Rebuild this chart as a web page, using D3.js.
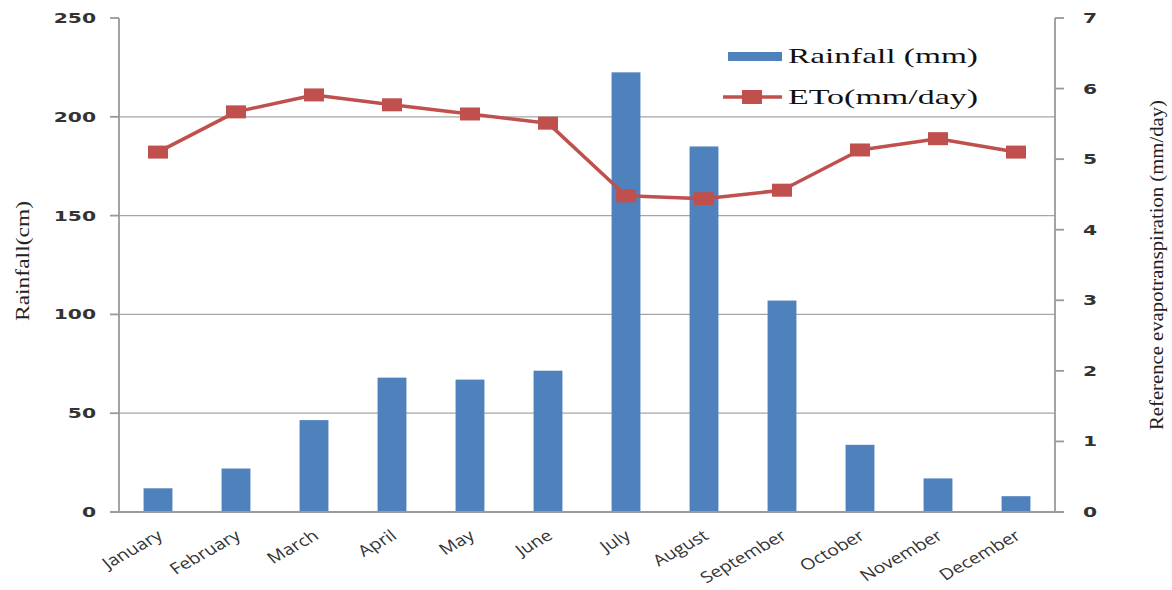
<!DOCTYPE html>
<html><head><meta charset="utf-8">
<script src="https://cdn.jsdelivr.net/npm/d3@7"></script>
<style>body{margin:0;background:#fff}svg{display:block}</style>
</head><body>
<script>
const months = ["January","February","March","April","May","June","July","August","September","October","November","December"];
const rainfall = [12, 22, 46.5, 68, 67, 71.5, 222.5, 185, 107, 34, 17, 8];
const eto = [5.10, 5.67, 5.91, 5.77, 5.64, 5.51, 4.48, 4.44, 4.56, 5.13, 5.29, 5.10];
const leftTicks = [0, 50, 100, 150, 200, 250];
const rightTicks = [0, 1, 2, 3, 4, 5, 6, 7];

const W = 1172, H = 590;
const svg = d3.select("body").append("svg").attr("width", W).attr("height", H);
const x0 = 119, x1 = 1055, yTop = 18, yBot = 512;
const x = d3.scaleBand().domain(months).range([x0, x1]).paddingInner(0.63).paddingOuter(0.315);
const yL = d3.scaleLinear().domain([0, 250]).range([yBot, yTop]);
const yR = d3.scaleLinear().domain([0, 7]).range([yBot, yTop]);
const cx = d => x(d) + x.bandwidth() / 2;

// gridlines
svg.append("g").selectAll("line").data(leftTicks.filter(t => t > 0 && t < 250)).join("line")
  .attr("x1", x0).attr("x2", x1).attr("y1", d => yL(d)).attr("y2", d => yL(d))
  .attr("stroke", "#a6a6a6").attr("stroke-width", 1.3);

// bars
svg.append("g").selectAll("rect").data(months).join("rect")
  .attr("x", d => x(d)).attr("width", x.bandwidth())
  .attr("y", (d, i) => yL(rainfall[i])).attr("height", (d, i) => yBot - yL(rainfall[i]))
  .attr("fill", "#4F81BD");

// axes lines
const ax = svg.append("g").attr("stroke", "#9a9a9a").attr("stroke-width", 1.8);
ax.append("line").attr("x1", x0).attr("x2", x0).attr("y1", yTop).attr("y2", yBot);
ax.append("line").attr("x1", x1).attr("x2", x1).attr("y1", yTop).attr("y2", yBot);
ax.append("line").attr("x1", x0 - 9).attr("x2", x1 + 9).attr("y1", yBot).attr("y2", yBot);
ax.selectAll(".lt").data(leftTicks).join("line").attr("class", "lt")
  .attr("x1", x0 - 9).attr("x2", x0).attr("y1", d => yL(d)).attr("y2", d => yL(d));
ax.selectAll(".rt").data(rightTicks).join("line").attr("class", "rt")
  .attr("x1", x1).attr("x2", x1 + 9).attr("y1", d => yR(d)).attr("y2", d => yR(d));

// tick labels
const tickFont = "DejaVu Sans";
svg.append("g").selectAll("text").data(leftTicks).join("text")
  .attr("transform", d => `translate(96,${yL(d) + 5}) scale(1.45,1)`)
  .attr("text-anchor", "end").attr("font-family", tickFont).attr("font-weight", "bold")
  .attr("font-size", 14).attr("fill", "#333").text(d => d);
svg.append("g").selectAll("text").data(rightTicks).join("text")
  .attr("transform", d => `translate(1083,${yR(d) + 5}) scale(1.45,1)`)
  .attr("text-anchor", "start").attr("font-family", tickFont).attr("font-weight", "bold")
  .attr("font-size", 14).attr("fill", "#333").text(d => d);

// month labels
svg.append("g").selectAll("text").data(months).join("text")
  .attr("transform", d => `translate(${cx(d) + 6},${yBot + 26}) scale(1.25,1) rotate(-35)`)
  .attr("text-anchor", "end").attr("font-family", "Open Sans").attr("font-size", 15.5)
  .attr("fill", "#333").text(d => d);

// line
const line = d3.line().x((d, i) => cx(months[i])).y(d => yR(d));
svg.append("path").datum(eto).attr("d", line).attr("fill", "none")
  .attr("stroke", "#C0504D").attr("stroke-width", 3.5).attr("stroke-linejoin", "round");
svg.append("g").selectAll("rect").data(eto).join("rect")
  .attr("x", (d, i) => cx(months[i]) - 10).attr("y", d => yR(d) - 6.5)
  .attr("width", 20).attr("height", 13).attr("fill", "#C0504D");

// axis titles
svg.append("text").attr("transform", "translate(29,261) rotate(-90)")
  .attr("text-anchor", "middle").attr("font-family", "Liberation Serif").attr("font-size", 19)
  .attr("textLength", 120).attr("lengthAdjust", "spacingAndGlyphs").attr("fill", "#222").text("Rainfall(cm)");
svg.append("text").attr("transform", "translate(1163,265) rotate(-90)")
  .attr("text-anchor", "middle").attr("font-family", "Liberation Serif").attr("font-size", 19)
  .attr("textLength", 330).attr("lengthAdjust", "spacingAndGlyphs").attr("fill", "#222")
  .text("Reference  evapotranspiration  (mm/day)");

// legend
const lg = svg.append("g");
lg.append("rect").attr("x", 728).attr("y", 52).attr("width", 54).attr("height", 9).attr("fill", "#4F81BD");
lg.append("text").attr("x", 788).attr("y", 63).attr("font-family", "Liberation Serif").attr("font-size", 21)
  .attr("textLength", 190).attr("lengthAdjust", "spacingAndGlyphs").attr("fill", "#111").text("Rainfall (mm)");
lg.append("line").attr("x1", 723).attr("x2", 782).attr("y1", 97).attr("y2", 97)
  .attr("stroke", "#C0504D").attr("stroke-width", 3.5);
lg.append("rect").attr("x", 742).attr("y", 90).attr("width", 20).attr("height", 14).attr("fill", "#C0504D");
lg.append("text").attr("x", 788).attr("y", 104).attr("font-family", "Liberation Serif").attr("font-size", 21)
  .attr("textLength", 190).attr("lengthAdjust", "spacingAndGlyphs").attr("fill", "#111").text("ETo(mm/day)");
</script>
</body></html>
